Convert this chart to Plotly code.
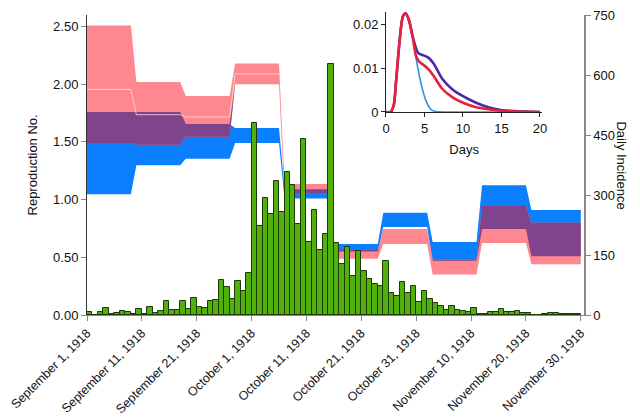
import plotly.graph_objects as go
import pandas as pd

# ---------------- data ----------------
first_day = "1918-09-01"
daily_incidence = [7, 1, 7, 17, 2, 5, 10, 8, 2, 14, 3, 19, 5, 11, 36, 13, 13, 36, 15, 42,
                   20, 17, 36, 38, 88, 70, 39, 85, 61, 105, 480, 222, 292, 253, 334, 257, 358, 325, 227, 440,
                   182, 262, 162, 203, 627, 179, 128, 170, 97, 159, 111, 89, 77, 73, 134, 56, 48, 83, 54, 72,
                   33, 59, 39, 30, 23, 12, 22, 12, 11, 8, 17, 3, 3, 7, 8, 14, 8, 7, 9, 6,
                   4, 1, 1, 2, 4, 6, 3, 3, 2, 2]

period_start = ["1918-09-01", "1918-09-10", "1918-09-19", "1918-09-28", "1918-10-07",
                "1918-10-16", "1918-10-25", "1918-11-03", "1918-11-12", "1918-11-21"]
period_end = ["1918-09-09", "1918-09-18", "1918-09-27", "1918-10-06", "1918-10-15",
              "1918-10-24", "1918-11-02", "1918-11-11", "1918-11-20", "1918-11-30"]

red_lower = [1.49, 1.476, 1.545, 2.00, 1.05, 0.488, 0.615, 0.35, 0.625, 0.44]
red_median = [1.955, 1.736, 1.716, 2.09, None, None, None, None, None, None]
red_upper = [2.51, 2.02, 1.898, 2.18, 1.135, 0.563, 0.745, 0.48, 0.945, 0.80]

blue_lower = [1.046, 1.297, 1.354, 1.49, 1.01, 0.55, 0.762, 0.47, 0.745, 0.51]
blue_upper = [1.76, 1.76, 1.655, 1.62, 1.09, 0.615, 0.886, 0.633, 1.125, 0.91]

tick_dates = ["1918-09-01", "1918-09-11", "1918-09-21", "1918-10-01", "1918-10-11",
              "1918-10-21", "1918-10-31", "1918-11-10", "1918-11-20", "1918-11-30"]
tick_labels = ["September 1, 1918", "September 11, 1918", "September 21, 1918", "October 1, 1918",
               "October 11, 1918", "October 21, 1918", "October 31, 1918", "November 10, 1918",
               "November 20, 1918", "November 30, 1918"]

left_ticks = [0, 0.5, 1.0, 1.5, 2.0, 2.5]
right_ticks = [0, 150, 300, 450, 600, 750]

# inset: serial interval / generation time distributions
blue_t = [0, 0.6, 1.0, 1.3, 1.75, 2.2, 2.55, 3.0, 3.5, 4.0, 4.6, 5.25, 5.9, 6.5, 8, 12, 16, 20]
blue_v = [0, 0, 0.0015, 0.0068, 0.0159, 0.0218, 0.0225, 0.0208, 0.0167, 0.0113, 0.0061, 0.0023,
          0.0005, 0.0001, 0, 0, 0, 0]
purple_t = [0, 0.6, 1.0, 1.3, 1.75, 2.2, 2.55, 3.0, 3.5, 4.2, 4.9, 5.5, 6.2, 7.3, 8.6, 10, 11.7,
            13.4, 15.1, 18, 20]
purple_v = [0, 0, 0.0015, 0.0068, 0.0159, 0.0218, 0.0225, 0.0208, 0.0170, 0.0134, 0.0129, 0.0124,
            0.0110, 0.0076, 0.0052, 0.0036, 0.0021, 0.0010, 0.0004, 0.0001, 0]
red_t = [0, 0.6, 1.0, 1.3, 1.75, 2.2, 2.55, 3.0, 3.5, 3.9, 4.3, 4.9, 5.5, 6.2, 7.3, 8.6, 10, 11.7,
         14.3, 17, 20]
red_v = [0, 0, 0.0015, 0.0068, 0.0159, 0.0218, 0.0225, 0.0208, 0.0167, 0.0128, 0.0115, 0.0107,
         0.0098, 0.0082, 0.0053, 0.0034, 0.0021, 0.0011, 0.0004, 0.0001, 0]
inset_xticks = [0, 5, 10, 15, 20]
inset_yticks = [0, 0.01, 0.02]
inset_ylabels = ["0", "0.01", "0.02"]

# ---------------- helpers ----------------
def steps(vals):
    xs, ys = [], []
    for s, e, v in zip(period_start, period_end, vals):
        xs += [s, e]
        ys += [v, v]
    return xs, ys

PINK = "#ff8890"
BLUE = "#0a80ff"
PURPLE = "#80448c"
FONT = "Liberation Sans, Arial, sans-serif"

fig = go.Figure()

def band(lower, upper, color):
    x, yl = steps(lower)
    _, yu = steps(upper)
    fig.add_trace(go.Scatter(x=x, y=yl, mode="lines", line=dict(width=0, color=color),
                             showlegend=False, hoverinfo="skip", xaxis="x", yaxis="y"))
    fig.add_trace(go.Scatter(x=x, y=yu, mode="lines", line=dict(width=0, color=color),
                             fill="tonexty", fillcolor=color, showlegend=False,
                             hoverinfo="skip", xaxis="x", yaxis="y"))

band(blue_lower, blue_upper, BLUE)
band(red_lower, red_upper, PINK)

# overlap region
ov_lower = [max(a, b) for a, b in zip(red_lower, blue_lower)]
ov_upper = [max(lo, min(a, b)) for lo, a, b in zip(ov_lower, red_upper, blue_upper)]
band(ov_lower, ov_upper, PURPLE)

mx, my = steps(red_median)
fig.add_trace(go.Scatter(x=mx, y=my, mode="lines", line=dict(width=1, color="rgba(255,225,225,0.75)"),
                         showlegend=False, hoverinfo="skip", xaxis="x", yaxis="y"))

# bars
dates = pd.date_range(first_day, periods=len(daily_incidence), freq="D")
fig.add_trace(go.Bar(x=dates + pd.Timedelta(hours=12), y=daily_incidence,
                     width=86400000, marker=dict(color="#52b00c", line=dict(color="#1c3a06", width=1)),
                     showlegend=False, xaxis="x", yaxis="y2"))

# inset
fig.add_trace(go.Scatter(x=blue_t, y=blue_v, mode="lines", line=dict(color="#2f8fe8", width=1.6, shape="spline", smoothing=0.8),
                         showlegend=False, xaxis="x3", yaxis="y3"))
fig.add_trace(go.Scatter(x=purple_t, y=purple_v, mode="lines", line=dict(color="#4a2aa6", width=2.6, shape="spline", smoothing=0.8),
                         showlegend=False, xaxis="x3", yaxis="y3"))
fig.add_trace(go.Scatter(x=red_t, y=red_v, mode="lines", line=dict(color="#e8203c", width=2.6, shape="spline", smoothing=0.8),
                         showlegend=False, xaxis="x3", yaxis="y3"))

main_top = 300 / 305

fig.update_layout(
    width=632, height=412,
    margin=dict(l=79, r=56, t=2, b=105, autoexpand=False),
    paper_bgcolor="white", plot_bgcolor="white",
    font=dict(family=FONT, size=13, color="#111"),
    bargap=0,
    xaxis=dict(type="date", range=["1918-09-01", "1918-11-30 14:00"], domain=[0, 1], anchor="y",
               tickvals=tick_dates, ticktext=tick_labels, tickangle=-45, automargin=False,
               ticklabeloverflow="allow",
               showline=True, linecolor="#888", linewidth=1, ticks="outside", tickcolor="#888",
               ticklen=5, showgrid=False, zeroline=False, tickfont=dict(size=12.5)),
    yaxis=dict(domain=[0, main_top], range=[0, 2.6], anchor="x", tickvals=left_ticks, tickformat=".2f",
               showline=True, linecolor="#333", linewidth=1, ticks="outside", tickcolor="#888",
               ticklen=5, showgrid=False, zeroline=False, automargin=False, ticklabeloverflow="allow"),
    yaxis2=dict(overlaying="y", side="right", range=[0, 750], anchor="x", tickvals=right_ticks,
                showline=True, linecolor="#888", linewidth=1.5, ticks="outside", tickcolor="#888",
                ticklen=5, showgrid=False, zeroline=False, automargin=False, ticklabeloverflow="allow"),
    xaxis3=dict(domain=[0.6016, 0.9161], anchor="y3", range=[0, 20.3], tickvals=inset_xticks,
                showline=True, linecolor="#222", linewidth=1, ticks="outside", tickcolor="#222",
                ticklen=4, showgrid=False, zeroline=False, automargin=False,
                title=dict(text="Days", standoff=10, font=dict(size=13))),
    yaxis3=dict(domain=[0.6656, 0.9934], anchor="x3", range=[0, 0.0228], tickvals=inset_yticks,
                ticktext=inset_ylabels, showline=True, linecolor="#222", linewidth=1, ticks="outside",
                tickcolor="#222", ticklen=4, showgrid=False, zeroline=False, automargin=False),
    annotations=[
        dict(text="Reproduction No.", xref="paper", yref="paper", x=-0.1288, y=0.4918,
             textangle=-90, showarrow=False, font=dict(size=13)),
        dict(text="Daily Incidence", xref="paper", yref="paper", x=1.0946, y=0.4918,
             textangle=90, showarrow=False, font=dict(size=13)),
    ],
)

fig.write_html("out.html")
